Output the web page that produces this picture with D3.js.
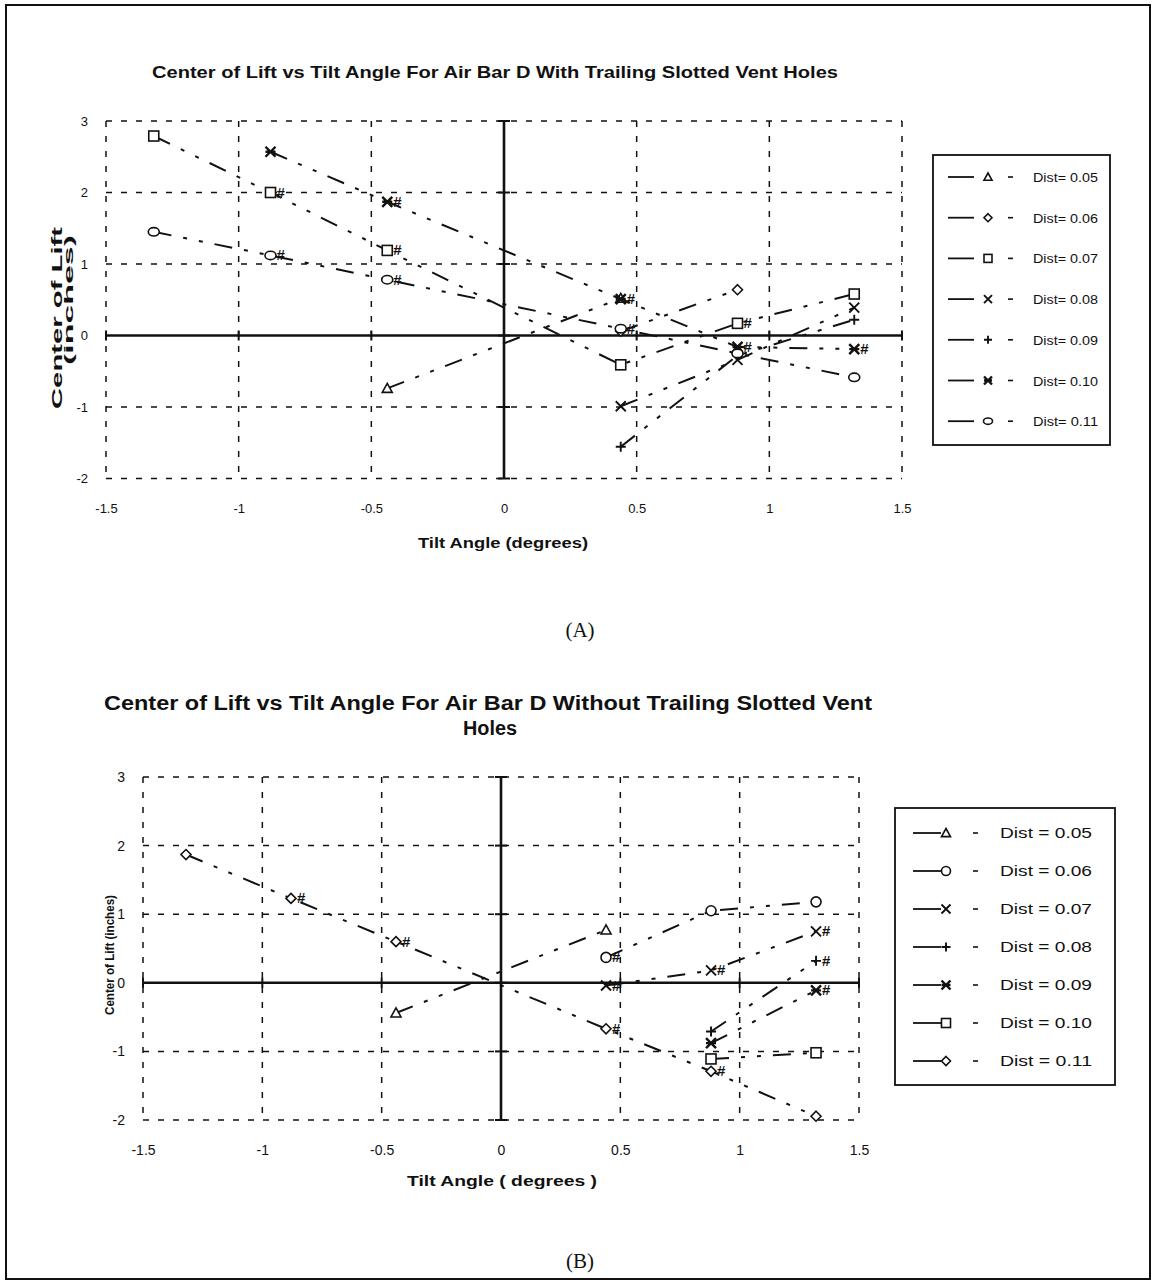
<!DOCTYPE html>
<html>
<head>
<meta charset="utf-8">
<script src="https://cdn.jsdelivr.net/npm/d3@7"></script>
<style>
  body { margin: 0; background: #fff; }
  svg { display: block; }
  text { fill: #111; }
</style>
</head>
<body>
<svg id="fig" width="1157" height="1282"></svg>
<script>
// ---- data ----
const xTicks = [-1.5, -1, -0.5, 0, 0.5, 1, 1.5];
const yTicks = [3, 2, 1, 0, -1, -2];

// (A) with trailing slotted vent holes
const distA = ["0.05", "0.06", "0.07", "0.08", "0.09", "0.10", "0.11"];
const pointsA = [
  [[-0.44, -0.74], [0.44, 0.52]],
  [[0.44, 0.06], [0.88, 0.64]],
  [[-1.32, 2.79], [-0.88, 2.0], [-0.44, 1.19], [0.44, -0.41], [0.88, 0.17], [1.32, 0.58]],
  [[0.44, -0.99], [0.88, -0.34], [1.32, 0.39]],
  [[0.44, -1.555], [0.88, -0.28], [1.32, 0.22]],
  [[-0.88, 2.57], [-0.44, 1.87], [0.44, 0.51], [0.88, -0.16], [1.32, -0.19]],
  [[-1.32, 1.45], [-0.88, 1.12], [-0.44, 0.78], [0.44, 0.095], [0.88, -0.25], [1.32, -0.585]]
];
// [series, point] that carry the extra "#" mark
const hashA = [[2, 1], [2, 2], [2, 4], [5, 1], [5, 2], [5, 3], [5, 4], [6, 1], [6, 2], [6, 3]];

// (B) without trailing slotted vent holes
const distB = ["0.05", "0.06", "0.07", "0.08", "0.09", "0.10", "0.11"];
const pointsB = [
  [[-0.44, -0.44], [0.44, 0.77]],
  [[0.44, 0.37], [0.88, 1.05], [1.32, 1.18]],
  [[0.44, -0.04], [0.88, 0.18], [1.32, 0.75]],
  [[0.88, -0.71], [1.32, 0.32]],
  [[0.88, -0.88], [1.32, -0.11]],
  [[0.88, -1.11], [1.32, -1.02]],
  [[-1.32, 1.87], [-0.88, 1.23], [-0.44, 0.6], [0.44, -0.67], [0.88, -1.29], [1.32, -1.945]]
];
const hashB = [[1, 0], [2, 0], [2, 1], [2, 2], [3, 1], [4, 1], [6, 1], [6, 2], [6, 3], [6, 4]];

const symA = ["triangle", "diamond", "square", "x", "plus", "star", "ellipse"];
const symB = ["triangle", "circle", "x", "plus", "star", "square", "diamond"];

const svg = d3.select("#fig");

// outer frame of the page
svg.append("rect").attr("x", 6).attr("y", 5).attr("width", 1144).attr("height", 1274)
  .attr("fill", "none").attr("stroke", "#111").attr("stroke-width", 2);

function marker(g, type, cx, cy, s) {
  const h = s / 2;
  const st = { stroke: "#111", "stroke-width": 1.6, fill: "#fff" };
  let el;
  if (type === "square") {
    el = g.append("rect").attr("x", cx - h).attr("y", cy - h).attr("width", s).attr("height", s);
  } else if (type === "circle") {
    el = g.append("circle").attr("cx", cx).attr("cy", cy).attr("r", h);
  } else if (type === "ellipse") {
    el = g.append("ellipse").attr("cx", cx).attr("cy", cy).attr("rx", h + 0.5).attr("ry", h - 0.8);
  } else if (type === "triangle") {
    el = g.append("path").attr("d", `M${cx},${cy - h}L${cx + h},${cy + h * 0.8}L${cx - h},${cy + h * 0.8}Z`);
  } else if (type === "diamond") {
    el = g.append("path").attr("d", `M${cx},${cy - h}L${cx + h},${cy}L${cx},${cy + h}L${cx - h},${cy}Z`);
  } else {
    let d = "";
    if (type === "x" || type === "star") d += `M${cx - h},${cy - h}L${cx + h},${cy + h}M${cx - h},${cy + h}L${cx + h},${cy - h}`;
    if (type === "plus") d += `M${cx - h},${cy}L${cx + h},${cy}M${cx},${cy - h}L${cx},${cy + h}`;
    if (type === "star") d += `M${cx - h},${cy}L${cx + h},${cy}`;
    el = g.append("path").attr("d", d);
    st["stroke-width"] = type === "star" ? 2.4 : 1.9;
    st.fill = "none";
  }
  Object.entries(st).forEach(([k, v]) => el.attr(k, v));
}

function drawChart(cfg) {
  const { x, y, points, hashes, syms, dist, size } = cfg;
  const g = svg.append("g");
  const [x0, x1] = x.range();
  const [y0, y1] = y.range(); // bottom, top

  // dashed grid + dashed frame
  g.append("g").selectAll("line").data(xTicks).join("line")
    .attr("x1", d => x(d)).attr("x2", d => x(d)).attr("y1", y1).attr("y2", y0)
    .attr("stroke", d => d === 0 ? "none" : "#111").attr("stroke-width", 1.5)
    .attr("stroke-dasharray", "6,9");
  g.append("g").selectAll("line").data(yTicks).join("line")
    .attr("x1", x0).attr("x2", x1).attr("y1", d => y(d)).attr("y2", d => y(d))
    .attr("stroke", d => d === 0 ? "none" : "#111").attr("stroke-width", 1.5)
    .attr("stroke-dasharray", "6,9");

  // solid zero axes with cross ticks
  g.append("line").attr("x1", x0).attr("x2", x1).attr("y1", y(0)).attr("y2", y(0))
    .attr("stroke", "#111").attr("stroke-width", 2.6);
  g.append("line").attr("x1", x(0)).attr("x2", x(0)).attr("y1", y1).attr("y2", y0)
    .attr("stroke", "#111").attr("stroke-width", 2.6);
  g.append("g").selectAll("line").data(xTicks).join("line")
    .attr("x1", d => x(d)).attr("x2", d => x(d)).attr("y1", y(0) - 5).attr("y2", y(0) + 5)
    .attr("stroke", "#111").attr("stroke-width", 2);
  g.append("g").selectAll("line").data(yTicks).join("line")
    .attr("x1", x(0) - 6).attr("x2", x(0) + 6).attr("y1", d => y(d)).attr("y2", d => y(d))
    .attr("stroke", "#111").attr("stroke-width", 2);

  // tick labels through d3 axes
  const ax = g.append("g").attr("transform", `translate(0,${y0 + cfg.xLabelGap})`)
    .call(d3.axisBottom(x).tickValues(xTicks).tickSize(0).tickFormat(d => String(d)));
  const ay = g.append("g").attr("transform", `translate(${x0 - cfg.yLabelGap},0)`)
    .call(d3.axisLeft(y).tickValues(yTicks).tickSize(0).tickFormat(d => String(d)));
  [ax, ay].forEach(a => {
    a.select(".domain").remove();
    a.selectAll("text").attr("font-family", "Liberation Sans, Arial, sans-serif")
      .attr("font-size", cfg.tickFont).attr("fill", "#111");
  });

  // series lines (dash-dot)
  const line = d3.line().x(d => x(d[0])).y(d => y(d[1]));
  g.append("g").selectAll("path").data(points).join("path")
    .attr("d", line).attr("fill", "none").attr("stroke", "#111")
    .attr("stroke-width", 2).attr("stroke-dasharray", "18,12,4,12,4,12");

  // markers
  points.forEach((pts, i) => pts.forEach(p => marker(g, syms[i], x(p[0]), y(p[1]), size)));

  // the extra "#" marks beside some points
  g.append("g").selectAll("text").data(hashes).join("text")
    .attr("x", d => x(points[d[0]][d[1]][0]) + 10)
    .attr("y", d => y(points[d[0]][d[1]][1]) + 5)
    .attr("text-anchor", "middle")
    .attr("font-family", "Liberation Sans, Arial, sans-serif")
    .attr("font-weight", "bold").attr("font-style", "italic")
    .attr("font-size", 15).text("#");

  // legend
  const L = cfg.legend;
  g.append("rect").attr("x", L.x).attr("y", L.y).attr("width", L.w).attr("height", L.h)
    .attr("fill", "#fff").attr("stroke", "#111").attr("stroke-width", 1.8);
  dist.forEach((dd, i) => {
    const ly = L.y0 + i * L.step;
    g.append("line").attr("x1", L.lineX).attr("x2", L.lineX + L.lineW).attr("y1", ly).attr("y2", ly)
      .attr("stroke", "#111").attr("stroke-width", 1.8);
    marker(g, syms[i], L.markX, ly, L.markSize);
    g.append("line").attr("x1", L.dashX).attr("x2", L.dashX + 5).attr("y1", ly).attr("y2", ly)
      .attr("stroke", "#111").attr("stroke-width", 1.6);
    g.append("text").attr("x", L.textX).attr("y", ly + 5)
      .attr("font-family", "Liberation Sans, Arial, sans-serif").attr("font-size", L.font)
      .attr("textLength", L.textW).attr("lengthAdjust", "spacingAndGlyphs")
      .text(L.label(dd));
  });
}

const xA = d3.scaleLinear().domain([-1.5, 1.5]).range([106, 902]);
const yA = d3.scaleLinear().domain([-2, 3]).range([478.5, 121]);
const xB = d3.scaleLinear().domain([-1.5, 1.5]).range([143, 859]);
const yB = d3.scaleLinear().domain([-2, 3]).range([1120, 777]);

drawChart({
  x: xA, y: yA, points: pointsA, hashes: hashA, syms: symA, dist: distA, size: 10,
  xLabelGap: 22, yLabelGap: 15, tickFont: 13,
  legend: { x: 933, y: 155, w: 177, h: 290, y0: 177, step: 40.7, lineX: 948, lineW: 26,
    markX: 988, markSize: 8, dashX: 1008, textX: 1033, textW: 65, font: 12,
    label: d => "Dist= " + d }
});

drawChart({
  x: xB, y: yB, points: pointsB, hashes: hashB, syms: symB, dist: distB, size: 10,
  xLabelGap: 22, yLabelGap: 15, tickFont: 14,
  legend: { x: 895, y: 808, w: 220, h: 277, y0: 833, step: 38, lineX: 913, lineW: 28,
    markX: 946, markSize: 9, dashX: 973, textX: 1000, textW: 92, font: 14,
    label: d => "Dist = " + d }
});

// titles and axis names
const bold = "Liberation Sans Narrow, Liberation Sans, Arial, sans-serif";
function label(txt, x, y, size, width, rotate) {
  const t = svg.append("text").attr("x", x).attr("y", y).attr("text-anchor", "middle")
    .attr("font-family", bold).attr("font-weight", "bold").attr("font-size", size)
    .attr("textLength", width).attr("lengthAdjust", "spacingAndGlyphs").text(txt);
  if (rotate) t.attr("transform", `rotate(-90,${x},${y})`);
}
label("Center of Lift vs Tilt Angle For Air Bar D With Trailing Slotted Vent Holes", 495, 78, 17, 686);
label("Tilt Angle (degrees)", 503, 548, 14, 170);
label("Center of Lift", 62, 318, 14, 182, true);
label("(inches)", 73, 300, 13, 130, true);

label("Center of Lift vs Tilt Angle For Air Bar D Without Trailing Slotted Vent", 488, 710, 20, 768);
label("Holes", 490, 735, 20, 54);
label("Tilt Angle ( degrees )", 502, 1186, 15, 190);
label("Center of Lift (inches)", 114, 955, 12, 120, true);

// panel captions
[["(A)", 580, 637], ["(B)", 580, 1268]].forEach(([t, x, y]) => {
  svg.append("text").attr("x", x).attr("y", y).attr("text-anchor", "middle")
    .attr("font-family", "Liberation Serif, Times New Roman, serif").attr("font-size", 21).text(t);
});
</script>
</body>
</html>
